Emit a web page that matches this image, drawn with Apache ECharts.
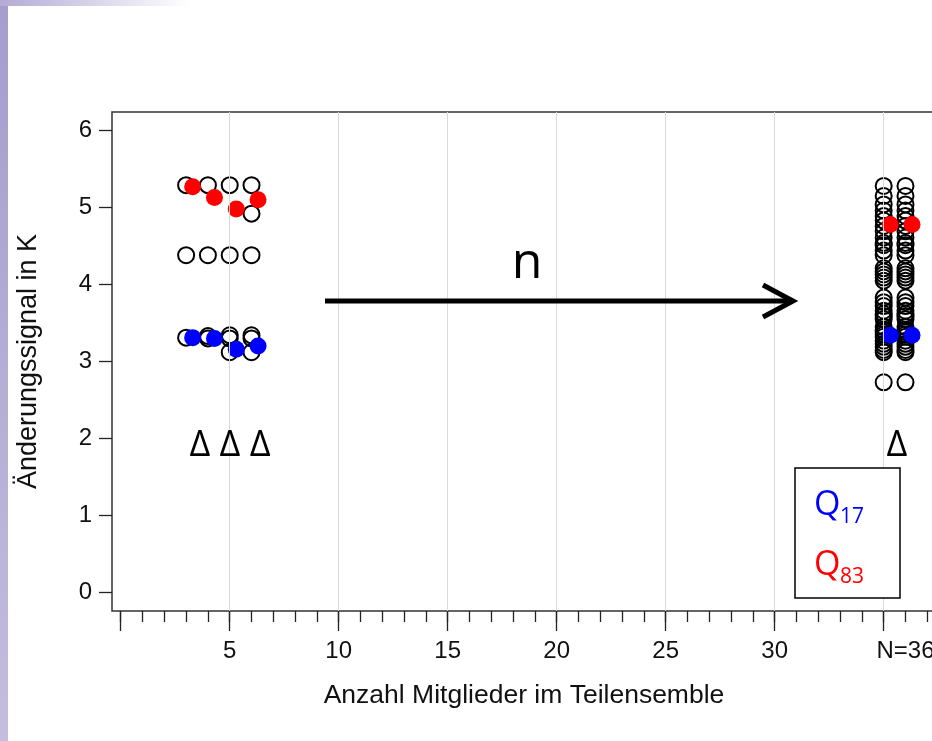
<!DOCTYPE html>
<html><head><meta charset="utf-8">
<script src="https://cdn.jsdelivr.net/npm/echarts@6/dist/echarts.min.js"></script>
<style>html,body{margin:0;padding:0;background:#fff}#c{width:932px;height:741px}</style>
</head><body><div id="c"></div>
<script>
// ---- data ----
const subsetSizes = [3, 4, 5, 6];
const subsetMembers = [
  [5.29, 4.38, 3.31],
  [5.29, 4.38, 3.33, 3.30],
  [5.29, 4.38, 3.34, 3.30, 3.12],
  [5.29, 4.92, 4.38, 3.34, 3.30, 3.12]
];
const q83Subsets = [5.27, 5.13, 4.98, 5.10];
const q17Subsets = [3.31, 3.30, 3.16, 3.20];
const fullColumns = [35, 36];
const fullEnsemble = [5.28, 5.15, 5.04, 4.96, 4.89, 4.83, 4.76, 4.69, 4.61, 4.54, 4.51, 4.44,
  4.38, 4.21, 4.17, 4.13, 4.09, 4.05, 3.83, 3.77, 3.72, 3.66, 3.59, 3.55,
  3.45, 3.41, 3.38, 3.35, 3.32, 3.27, 3.23, 3.19, 3.15, 3.12, 2.73, 3.62];
const q83Full = 4.78;
const q17Full = 3.34;
const quantileShift = 0.3;
const xMajorTicks = [0, 5, 10, 15, 20, 25, 30, 35];
const xMinorTicks = [0,1,2,3,4,5,6,7,8,9,10,11,12,13,14,15,16,17,18,19,20,21,22,23,24,25,26,27,28,29,30,31,32,33,34,35,36,37];
const xLabelValues = [5, 10, 15, 20, 25, 30, 36];
const xLabelTexts = ['5', '10', '15', '20', '25', '30', 'N=36'];
const xGridValues = [5, 10, 15, 20, 25, 30, 35];
const yTicks = [0, 1, 2, 3, 4, 5, 6];
const xTitle = 'Anzahl Mitglieder im Teilensemble';
const yTitle = 'Änderungssignal in K';

// ---- build marks ----
const memberPts = [];
subsetSizes.forEach((n, i) => subsetMembers[i].forEach(v => memberPts.push([n, v])));
fullColumns.forEach(c => fullEnsemble.forEach(v => memberPts.push([c, v])));
const q83Pts = subsetSizes.map((n, i) => [n + quantileShift, q83Subsets[i]])
  .concat(fullColumns.map(c => [c + quantileShift, q83Full]));
const q17Pts = subsetSizes.map((n, i) => [n + quantileShift, q17Subsets[i]])
  .concat(fullColumns.map(c => [c + quantileShift, q17Full]));

const AX = "'Liberation Sans', Arial, Helvetica, sans-serif";
const CAL = "'Open Sans', 'Noto Sans', sans-serif";

const chart = echarts.init(document.getElementById('c'));
chart.setOption({
  animation: false,
  backgroundColor: '#ffffff',
  grid: { left: 112, top: 112, width: 824, height: 499, outerBoundsMode: 'none', containLabel: false,
    show: true, borderColor: '#333', borderWidth: 1.5, backgroundColor: 'transparent' },
  xAxis: [{
    type: 'value', min: -0.4, max: 37.4, position: 'bottom',
    axisLine: { show: false, onZero: false },
    axisTick: { show: true, customValues: xMajorTicks, length: 20, lineStyle: { color: '#222', width: 1.3 } },
    axisLabel: { customValues: xLabelValues, formatter: v => xLabelTexts[xLabelValues.indexOf(v)], fontSize: 24, color: '#111', margin: 28, fontFamily: AX },
    splitLine: { show: false },
    name: xTitle, nameLocation: 'middle', nameGap: 71,
    nameTextStyle: { fontSize: 26.5, color: '#111', fontFamily: AX }
  }, {
    type: 'value', min: -0.4, max: 37.4, position: 'bottom',
    axisLine: { show: false, onZero: false },
    axisTick: { show: true, customValues: xMinorTicks, length: 11, lineStyle: { color: '#222', width: 1.3 } },
    axisLabel: { show: false }, splitLine: { show: false }
  }],
  yAxis: {
    type: 'value', min: -0.24, max: 6.24,
    axisLine: { show: false, onZero: false },
    axisTick: { show: true, customValues: yTicks, length: 13, lineStyle: { color: '#222', width: 1.3 } },
    axisLabel: { customValues: yTicks, fontSize: 24, color: '#111', margin: 20, fontFamily: AX },
    splitLine: { show: false },
    name: yTitle, nameLocation: 'middle', nameGap: 70, nameRotate: 90,
    nameTextStyle: { fontSize: 27, color: '#111', fontFamily: AX }
  },
  series: [
    { type: 'scatter', data: [], z: 1, silent: true,
      markLine: { silent: true, symbol: 'none', label: { show: false },
        lineStyle: { color: '#d9d9d9', width: 1, type: 'solid' },
        data: xGridValues.map(v => ({ xAxis: v })) } },
    { type: 'scatter', name: 'members', data: memberPts, symbol: 'circle', symbolSize: 16, z: 3,
      itemStyle: { color: 'rgba(0,0,0,0)', borderColor: '#000', borderWidth: 2, opacity: 1 } },
    { type: 'scatter', name: 'Q83', data: q83Pts, symbol: 'circle', symbolSize: 17, z: 4,
      itemStyle: { color: '#ff0000', opacity: 1 } },
    { type: 'scatter', name: 'Q17', data: q17Pts, symbol: 'circle', symbolSize: 17, z: 4,
      itemStyle: { color: '#0000ff', opacity: 1 } }
  ],
  graphic: [
    { type: 'rect', z: -1, shape: { x: 0, y: 0, width: 8, height: 741 },
      style: { fill: new echarts.graphic.LinearGradient(0, 0, 0, 1, [{ offset: 0, color: '#a59dcb' }, { offset: 1, color: '#c4bddf' }]) } },
    { type: 'rect', z: -1, shape: { x: 0, y: 0, width: 190, height: 6 },
      style: { fill: new echarts.graphic.LinearGradient(0, 0, 1, 0, [{ offset: 0, color: '#b3abd6' }, { offset: 1, color: 'rgba(255,255,255,1)' }]) } },
    { type: 'line', z: 10, shape: { x1: 325, y1: 301, x2: 790, y2: 301 }, style: { stroke: '#000', lineWidth: 5 } },
    { type: 'polyline', z: 10, shape: { points: [[763, 285], [793, 301], [763, 317]] }, style: { stroke: '#000', lineWidth: 5, fill: null, lineJoin: 'miter' } },
    { type: 'text', z: 10, x: 527, y: 264, style: { text: 'n', font: "50px " + CAL, fill: '#000', textAlign: 'center', textVerticalAlign: 'middle' } },
    { type: 'text', z: 10, x: 230, y: 446, style: { text: 'Δ Δ Δ', font: "36px " + CAL, fill: '#000', textAlign: 'center', textVerticalAlign: 'middle' } },
    { type: 'text', z: 10, x: 897, y: 446, style: { text: 'Δ', font: "36px " + CAL, fill: '#000', textAlign: 'center', textVerticalAlign: 'middle' } },
    { type: 'rect', z: 10, shape: { x: 795, y: 468, width: 105, height: 130 }, style: { fill: '#fff', stroke: '#000', lineWidth: 1.5 } },
    { type: 'text', z: 11, x: 814, y: 505, style: { text: 'Q', font: "34px " + CAL, fill: '#0000ff', textAlign: 'left', textVerticalAlign: 'middle' } },
    { type: 'text', z: 11, x: 840, y: 517, style: { text: '17', font: "21px " + CAL, fill: '#0000ff', textAlign: 'left', textVerticalAlign: 'middle' } },
    { type: 'text', z: 11, x: 814, y: 565, style: { text: 'Q', font: "34px " + CAL, fill: '#ff0000', textAlign: 'left', textVerticalAlign: 'middle' } },
    { type: 'text', z: 11, x: 840, y: 577, style: { text: '83', font: "21px " + CAL, fill: '#ff0000', textAlign: 'left', textVerticalAlign: 'middle' } }
  ]
});
</script></body></html>
